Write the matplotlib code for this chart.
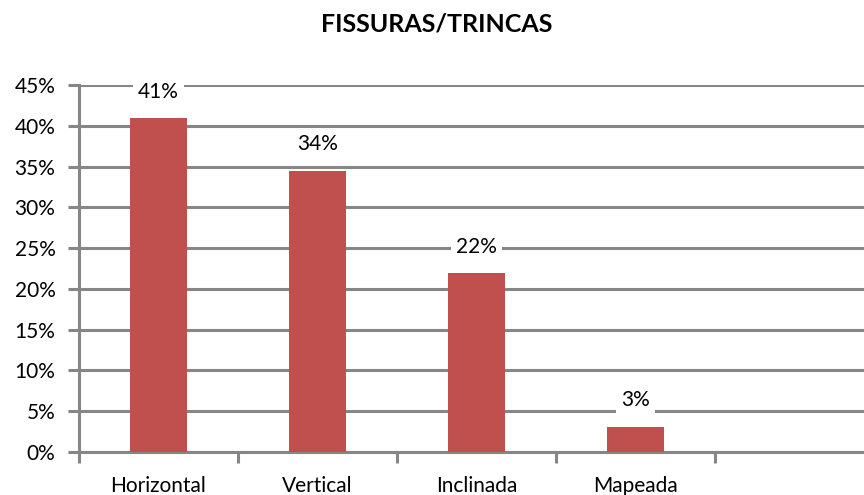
import numpy as np
import matplotlib.pyplot as plt
from matplotlib.ticker import PercentFormatter, FixedLocator

plt.rcParams['font.family'] = ['Lato', 'DejaVu Sans']

categories = ["Horizontal", "Vertical", "Inclinada", "Mapeada", ""]
values = [0.409, 0.345, 0.219, 0.031, np.nan]
labels = ["41%", "34%", "22%", "3%", ""]

bar_color = "#C0504D"
grid_color = "#868686"

fig = plt.figure(figsize=(8.64, 4.95), dpi=100)
ax = fig.add_axes([79 / 864, 1 - 452 / 495, 795 / 864, 367 / 495])

x = np.arange(len(categories))
ax.bar(x, values, width=0.36, color=bar_color, zorder=3)

for xi, v, lab in zip(x, values, labels):
    if not lab:
        continue
    ax.annotate(lab, (xi, v), xytext=(0, 19), textcoords="offset points",
                ha="center", va="center", fontsize=15, zorder=5,
                bbox=dict(boxstyle="square,pad=0.25", fc="white", ec="none"))

ax.set_xlim(-0.5, 4.5)
ax.set_ylim(0, 0.45)
ax.set_yticks(np.arange(0, 0.451, 0.05))
ax.yaxis.set_major_formatter(PercentFormatter(1.0, decimals=0))
ax.yaxis.grid(True, color=grid_color, lw=2.2, zorder=0)
ax.set_axisbelow(True)

ax.set_xticks(x)
ax.set_xticklabels(categories)
ax.xaxis.set_minor_locator(FixedLocator(np.arange(-0.5, 4.6, 1.0)))
ax.tick_params(axis="x", which="major", length=0, pad=17, labelsize=15)
ax.tick_params(axis="x", which="minor", length=8, width=2.2, color=grid_color)
ax.tick_params(axis="y", length=8, width=2.2, color=grid_color, labelsize=15, pad=9)

for s in ["top", "right"]:
    ax.spines[s].set_visible(False)
for s in ["left", "bottom"]:
    ax.spines[s].set_color(grid_color)
    ax.spines[s].set_linewidth(2.2)

fig.text(437 / 864, 1 - 31 / 495, "FISSURAS/TRINCAS", ha="center", va="baseline",
         fontsize=18, fontweight="bold")

fig.savefig("out.png", dpi=100)
